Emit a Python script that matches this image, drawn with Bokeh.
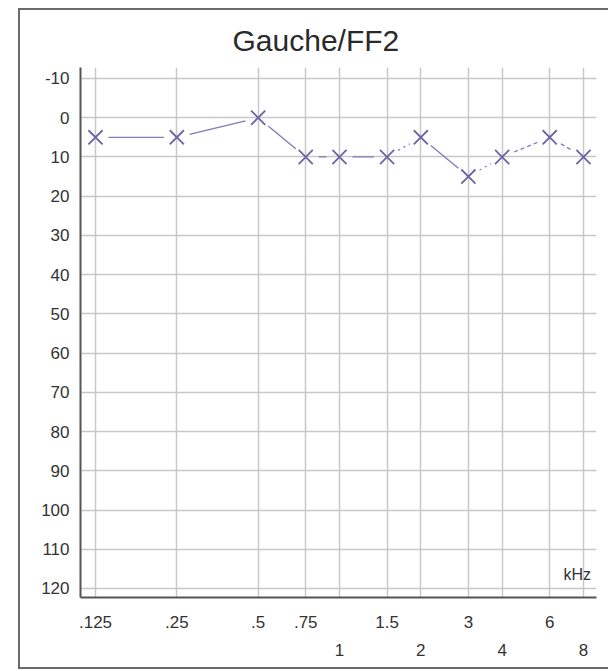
import math
from bokeh.plotting import figure
from bokeh.layouts import row, column
from bokeh.models import Range1d, FixedTicker, LogAxis, Label, Spacer
from bokeh.embed import file_html
from bokeh.resources import INLINE

# data
freqs = [0.125, 0.25, 0.5, 0.75, 1, 1.5, 2, 3, 4, 6, 8]
levels = [5, 5, 0, 10, 10, 10, 5, 15, 10, 5, 10]
seg_dash = ["solid", "solid", "solid", "solid", "solid", "dotted", "solid", "dotted", "4 3", "4 3"]
upper_ticks = [0.125, 0.25, 0.5, 0.75, 1.5, 3, 6]
upper_labels = [".125", ".25", ".5", ".75", "1.5", "3", "6"]
lower_ticks = [1, 2, 4, 8]
lower_labels = ["1", "2", "4", "8"]
y_ticks = list(range(-10, 130, 10))

FONT = "Liberation Sans"
MARK = "#6f63a6"
LINE = "#8479b4"
TXT = "#333333"
BOX = "#6a6a6a"

W, H = 588, 657
BL, BR, BT, BB = 60, 12, 55, 70
x0r, x1r = 0.110, 8.94
y0r, y1r = 122.3, -12.8

p = figure(width=W, height=H, x_axis_type="log", output_backend="svg",
           toolbar_location=None, x_range=Range1d(x0r, x1r),
           y_range=Range1d(y0r, y1r),
           min_border_left=BL, min_border_right=BR, min_border_top=BT,
           min_border_bottom=BB)

p.title.text = "Gauche/FF2"
p.title.align = "left"
p.title.offset = 152
p.title.text_font = FONT
p.title.text_font_size = "30px"
p.title.text_font_style = "normal"
p.title.text_color = "#2a2a2a"
p.title.standoff = 22

p.outline_line_color = None

# y axis
ya = p.yaxis[0]
ya.ticker = FixedTicker(ticks=y_ticks)
ya.major_label_overrides = {-10: "-10"}
ya.major_tick_line_color = None
ya.minor_tick_line_color = None
ya.axis_line_color = "#555555"
ya.axis_line_width = 2
ya.major_label_text_font = FONT
ya.major_label_text_font_size = "17px"
ya.major_label_text_color = TXT
ya.major_label_standoff = 5

# x axis (upper row)
xa = p.xaxis[0]
all_ticks = sorted(upper_ticks + lower_ticks)
xa.ticker = FixedTicker(ticks=all_ticks, minor_ticks=[])
xa.major_label_overrides = {**{t: l for t, l in zip(upper_ticks, upper_labels)},
                            **{t: "" for t in lower_ticks}}
xa.major_tick_line_color = None
xa.minor_tick_line_color = None
xa.axis_line_color = "#555555"
xa.axis_line_width = 2
xa.major_label_text_font = FONT
xa.major_label_text_font_size = "17px"
xa.major_label_text_color = TXT
xa.major_label_standoff = 12

# x axis (lower row)
xb = LogAxis(ticker=FixedTicker(ticks=lower_ticks, minor_ticks=[]))
xb.major_label_overrides = {t: l for t, l in zip(lower_ticks, lower_labels)}
xb.axis_line_color = None
xb.major_tick_line_color = None
xb.minor_tick_line_color = None
xb.major_label_text_font = FONT
xb.major_label_text_font_size = "17px"
xb.major_label_text_color = TXT
xb.major_label_standoff = 7
p.add_layout(xb, "below")

# grids
p.xgrid.ticker = FixedTicker(ticks=all_ticks)
p.ygrid.ticker = FixedTicker(ticks=y_ticks)
p.xgrid.grid_line_color = "#c8c8c8"
p.ygrid.grid_line_color = "#c8c8c8"
p.xgrid.grid_line_width = 1.5
p.ygrid.grid_line_width = 1.5

# connecting segments with gaps near markers
frame_w = W - BL - BR
frame_h = H - BT - BB
px_oct = frame_w / math.log2(x1r / x0r)
px_db = frame_h / (y0r - y1r)
gap = 13.0
for i in range(len(freqs) - 1):
    lx0, lx1 = math.log2(freqs[i]), math.log2(freqs[i + 1])
    dx = (lx1 - lx0) * px_oct
    dy = (levels[i + 1] - levels[i]) * px_db
    L = math.hypot(dx, dy)
    t = gap / L
    xs = 2 ** (lx0 + t * (lx1 - lx0))
    xe = 2 ** (lx1 - t * (lx1 - lx0))
    ys = levels[i] + t * (levels[i + 1] - levels[i])
    ye = levels[i + 1] - t * (levels[i + 1] - levels[i])
    p.line([xs, xe], [ys, ye], line_color=LINE, line_width=1.3,
           line_dash=seg_dash[i])

p.scatter(freqs, levels, marker="x", size=20, line_color=MARK, line_width=1.8)

p.add_layout(Label(x=6.75, y=116.5, text="kHz", text_font=FONT,
                   text_font_size="16px", text_color=TXT,
                   text_baseline="middle", text_align="left"))

# outer frame lines made of thin filled spacers
top_line = Spacer(width=W + 2, height=2, styles={"background-color": BOX})
left_line = Spacer(width=2, height=H, styles={"background-color": BOX})
bottom_line = Spacer(width=W + 2, height=2, styles={"background-color": BOX})

layout = column(Spacer(width=10, height=8),
                row(Spacer(width=18, height=2), top_line),
                row(Spacer(width=18, height=H), left_line, p),
                row(Spacer(width=18, height=2), bottom_line))
open("out.html", "w").write(file_html(layout, INLINE))
